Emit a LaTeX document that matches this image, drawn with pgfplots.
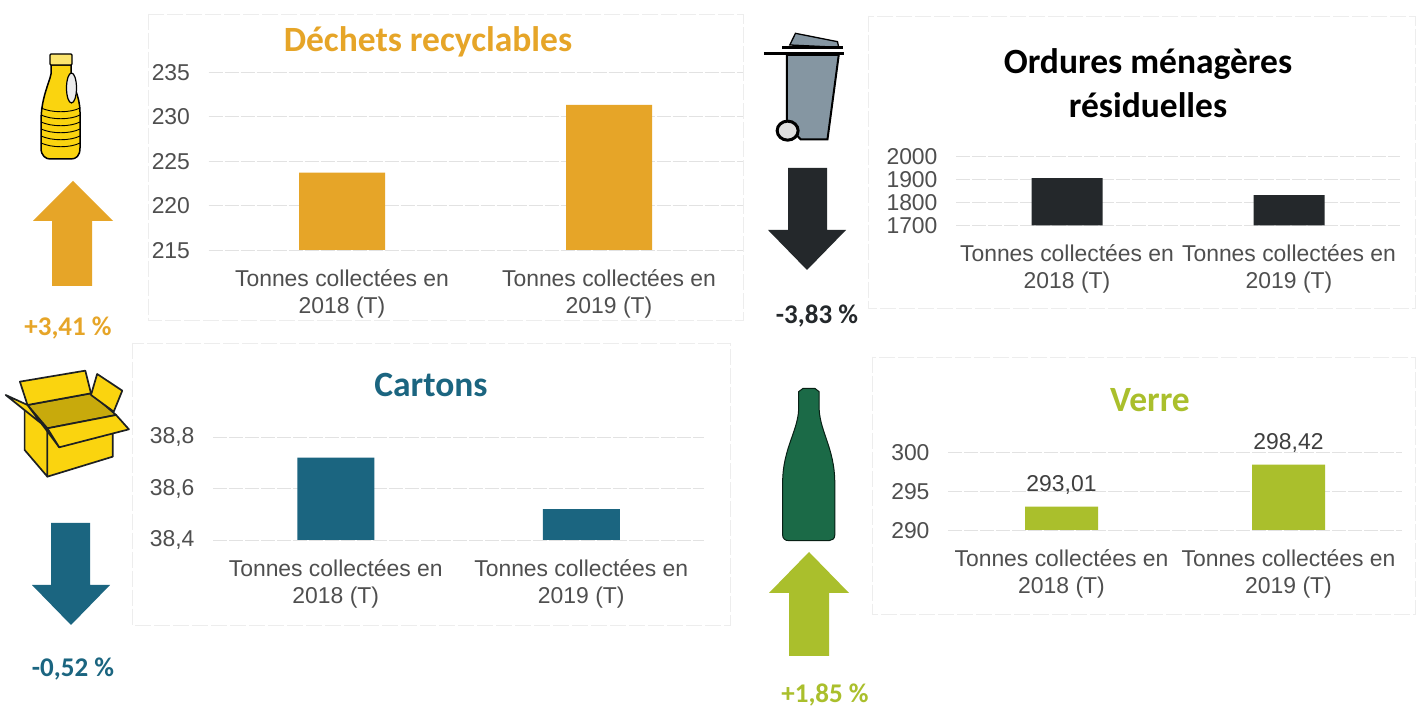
\documentclass[border=0pt]{standalone}
\usepackage{fontspec}
\usepackage{pgfplots}
\pgfplotsset{compat=1.18}
\setmainfont{Liberation Sans}
\newfontfamily\carlito{Carlito}
\definecolor{cA}{HTML}{E6A528}
\definecolor{cB}{HTML}{24282B}
\definecolor{cC}{HTML}{1B6580}
\definecolor{cD}{HTML}{AABF2C}
\definecolor{tick}{HTML}{4F4F4F}
\definecolor{gridc}{HTML}{E2E2E2}
\definecolor{framec}{HTML}{EDEDED}
\definecolor{byel}{HTML}{FAD40F}
\definecolor{bing}{HTML}{8596A2}
\definecolor{bgreen}{HTML}{1B6A47}
\newcommand{\ttl}{\carlito\bfseries\fontsize{35.5}{43.5}\selectfont}
\newcommand{\pct}{\carlito\bfseries\fontsize{27}{30}\selectfont}
\pgfplotsset{
  panel/.style={
    scale only axis, anchor=south west, clip=false,
    xmin=-0.5, xmax=1.5, xtick={0,1},
    xticklabels={{Tonnes collectées en\\2018 (T)},{Tonnes collectées en\\2019 (T)}},
    axis line style={draw=none}, major tick length=0pt,
    ymajorgrids, grid style={gridc, line width=0.9pt, dash pattern=on 14pt off 2pt},
    tick label style={font=\fontsize{22.9}{27}\selectfont, text=tick},
    xticklabel style={align=center, yshift=-16pt},
    yticklabel style={xshift=-15pt, yshift=-0.3pt},
    /pgf/number format/assume math mode=true,
    /pgf/number format/use comma,
    /pgf/number format/1000 sep={},
    ybar, 
  }
}
\begin{document}
\begin{tikzpicture}[x=1pt,y=1pt]
\clip (0,0) rectangle (1419,711);
\fill[white] (0,0) rectangle (1419,711);
\begin{scope}[shift={(0,711)},y=-1pt]
  % panel frames
  \foreach \a/\b/\c/\d in {148/14/743/320, 868/16/1415/308, 132/343/730/625, 872/357/1415/614}
    \draw[framec, line width=0.9pt, dash pattern=on 16pt off 3pt] (\a,\b) rectangle (\c,\d);
  % titles
  \node[text=cA] at (428,42) {\ttl Déchets recyclables};
  \node[text=black, align=center, font=\ttl] at (1148,83) {Ordures ménagères\\résiduelles};
  \node[text=cC] at (431,385) {\ttl Cartons};
  \node[text=cD] at (1150,400) {\ttl Verre};
  % arrows
  \fill[cA] (73,181)--(113,221)--(92,221)--(92,286)--(52,286)--(52,221)--(33,221)--cycle;
  \fill[cB] (788,168)--(827,168)--(827,230)--(846,230)--(807,270)--(768,230)--(788,230)--cycle;
  \fill[cC] (51,523)--(90,523)--(90,585)--(110,585)--(71,625)--(32,585)--(51,585)--cycle;
  \fill[cD] (809,552)--(849,593)--(829,593)--(829,656)--(789,656)--(789,593)--(769,593)--cycle;
  % percent labels
  \node[text=cA] at (68,328.5) {\pct +3,41 \%};
  \node[text=cB] at (817,316.5) {\pct -3,83 \%};
  \node[text=cC] at (73,669) {\pct -0,52 \%};
  \node[text=cD] at (825,695) {\pct +1,85 \%};
  % plastic bottle
  \filldraw[fill=byel, draw=black, line width=1.5pt]
    (51,65)--(51,74) .. controls (49,84) and (41,98) .. (41,122)--(41,148)
    .. controls (41,156) and (46,159) .. (50,159)--(71,159)
    .. controls (76,159) and (80,156) .. (80,148)--(80,112)
    .. controls (80,96) and (72,84) .. (71,74)--(71,65)--cycle;
  \filldraw[fill=byel!60!white, draw=black, line width=1.2pt, rounded corners=1pt]
    (50,54)--(72,54)--(72,65)--(50,65)--cycle;
  \filldraw[fill=white!85!gray, draw=black, line width=1.2pt] (71.5,88) ellipse (5pt and 15pt);
  \foreach \yy in {110,117,124,131,138,145}
    \draw[black, line width=0.9pt] (41,\yy-2) .. controls (52,\yy+3) and (70,\yy+3) .. (80,\yy-2);
  % bin
  \begin{scope}[shift={(740,0)},x=0.4331pt,y=-0.3333pt]
    \filldraw[fill=bing, draw=black, line width=1.3pt] (115,135)--(128,100)--(225,125)--(228,142)--cycle;
    \draw[black, line width=2.5pt] (98,143)--(238,143);
    \filldraw[fill=bing, draw=black, line width=2pt] (108,165)--(228,165)--(202,418)--(140,418)--(108,375)--cycle;
    \draw[black, line width=3pt] (55,160)--(240,160);
    \filldraw[fill=gray!25, draw=black, line width=3pt] (110,392) ellipse (10.5pt and 9.5pt);
  \end{scope}
  % carton
  \begin{scope}[shift={(0,350)},x=0.4739pt,y=-0.3333pt,line width=1.7pt,draw=cB!80!black,line join=round]
    \filldraw[fill=byel] (52,165)--(100,235)--(100,380)--(52,300)--cycle;
    \filldraw[fill=byel] (100,235)--(238,195)--(238,320)--(100,380)--cycle;
    \filldraw[fill=byel!80!black] (58,165)--(192,130)--(245,195)--(100,235)--cycle;
    \filldraw[fill=byel] (42,95)--(180,62)--(192,130)--(58,165)--cycle;
    \filldraw[fill=byel] (205,72)--(258,122)--(240,185)--(192,135)--cycle;
    \filldraw[fill=byel] (12,135)--(58,165)--(125,292)--(100,235)--cycle;
    \filldraw[fill=byel] (100,235)--(245,195)--(272,238)--(125,292)--cycle;
  \end{scope}
  % green bottle
  \begin{scope}[shift={(740,350)},x=0.4348pt,y=-0.3333pt]
    \filldraw[fill=bgreen, draw=black!70!bgreen, line width=1pt]
      (135,125)--(145,115)--(172,115)--(182,125)--(182,165)
      .. controls (180,240) and (218,290) .. (218,400)--(218,555)
      .. controls (218,566) and (212,572) .. (205,572)--(112,572)
      .. controls (104,572) and (98,566) .. (98,555)--(98,400)
      .. controls (98,290) and (137,240) .. (135,165)--cycle;
  \end{scope}
\end{scope}

% Déchets recyclables
\begin{axis}[panel, at={(208.5pt,461pt)}, width=534pt, height=178pt,
  ymin=215, ymax=235, ytick={215,220,225,230,235}, bar width=86pt]
\addplot[fill=cA, draw=none] coordinates {(0,223.7) (1,231.3)};
\end{axis}

% Ordures ménagères résiduelles
\begin{axis}[panel, at={(956pt,485.7pt)}, width=444pt, height=68.6pt,
  ymin=1700, ymax=2000, ytick={1700,1800,1900,2000}, bar width=71pt]
\addplot[fill=cB, draw=none] coordinates {(0,1906) (1,1832)};
\end{axis}

% Cartons
\begin{axis}[panel, at={(213pt,171pt)}, width=491pt, height=103pt,
  ymin=38.4, ymax=38.8, ytick={38.4,38.6,38.8}, bar width=77pt,
  yticklabel style={/pgf/number format/fixed, /pgf/number format/fixed zerofill, /pgf/number format/precision=1}]
\addplot[fill=cC, draw=none] coordinates {(0,38.72) (1,38.52)};
\end{axis}

% Verre
\begin{axis}[panel, at={(948pt,181pt)}, width=454pt, height=77.5pt,
  ymin=290, ymax=300, ytick={290,295,300}, bar width=73pt,
  nodes near coords,
  nodes near coords style={font=\fontsize{22.9}{27}\selectfont, text=tick!80!black, yshift=9pt,
    /pgf/number format/fixed, /pgf/number format/fixed zerofill, /pgf/number format/precision=2}]
\addplot[fill=cD, draw=none] coordinates {(0,293.01) (1,298.42)};
\end{axis}
\end{tikzpicture}
\end{document}
